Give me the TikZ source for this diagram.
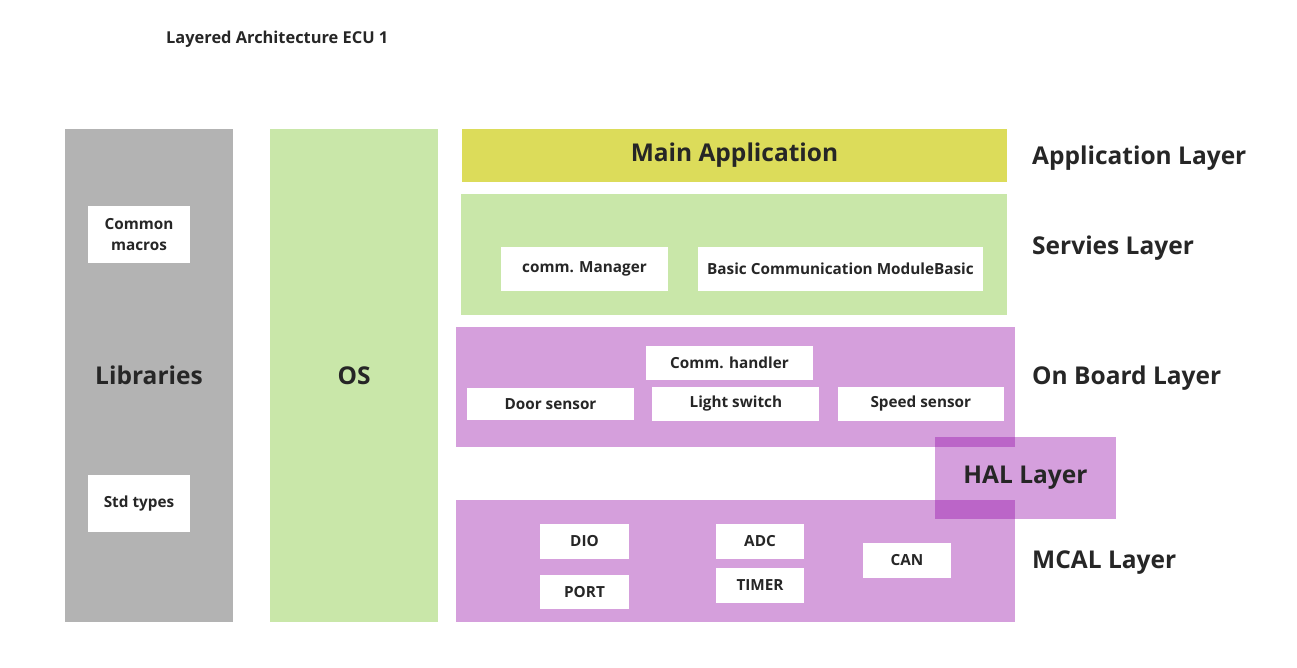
\documentclass[tikz,border=0pt]{standalone}
\usepackage{fontspec}
\setmainfont{Open Sans}
\usepackage{tikz}
\usetikzlibrary{positioning}
\definecolor{libgray}{HTML}{B3B3B3}
\definecolor{osgreen}{HTML}{C9E7A9}
\definecolor{appyellow}{HTML}{DCDC5A}
\definecolor{layerpurple}{HTML}{D59FDC}
\definecolor{halpurple}{RGB}{150,15,170}
\tikzset{layerbox/.style={rectangle,draw=none,inner sep=0pt,
font=\fontsize{24.5}{28}\selectfont\bfseries,text=black!85}}
\tikzset{modbox/.style={rectangle,draw=none,fill=white,inner sep=0pt,
font=\fontsize{15.3}{21}\selectfont\bfseries,text=black!85,align=center}}
\tikzset{layerlabel/.style={anchor=west,inner sep=0pt,
font=\fontsize{24.5}{28}\selectfont\bfseries,text=black!85}}

\begin{document}
\begin{tikzpicture}[x=1pt,y=-1pt]
    \useasboundingbox (0,0) rectangle (1297,668);

    \node[anchor=west,inner sep=0pt,font=\fontsize{16.4}{19}\selectfont\bfseries,text=black!85] (title) at (166,39) {Layered Architecture ECU 1};

    % vertical blocks
    \node[layerbox,fill=libgray,minimum width=168pt,minimum height=493pt] (libs) at (149,375.5) {Libraries};
    \node[layerbox,fill=osgreen,minimum width=168pt,minimum height=493pt] (os) at (354,375.5) {OS};
    \node[modbox,minimum width=102pt,minimum height=57pt] (macros) at (139,234.5) {Common\\macros};
    \node[modbox,minimum width=102pt,minimum height=57pt] (stdtypes) at (139,503.5) {Std types};

    % layers
    \node[layerbox,fill=appyellow,minimum width=545pt,minimum height=53pt] (mainapp) at (734.5,155.5) {Main Application};
    \node[layerbox,fill=osgreen,minimum width=546pt,minimum height=121pt] (servies) at (734,254.5) {};
    \node[layerbox,fill=layerpurple,minimum width=559pt,minimum height=120pt] (onboard) at (735.5,387) {};
    \node[layerbox,fill=layerpurple,minimum width=559pt,minimum height=122pt] (mcal) at (735.5,561) {};
    \node[layerbox,fill=halpurple,fill opacity=0.4,text opacity=1,minimum width=181pt,minimum height=82pt] (hal) at (1025.5,478) {HAL Layer};

    % services
    \node[modbox,minimum width=167pt,minimum height=44pt] (commmgr) at (584.5,269) {comm. Manager};
    \node[modbox,minimum width=285pt,minimum height=44pt] (basiccom) at (840.5,269) {Basic Communication ModuleBasic};

    % on board
    \node[modbox,minimum width=167pt,minimum height=34pt] (commhandler) at (729.5,363) {Comm. handler};
    \node[modbox,minimum width=167pt,minimum height=32pt] (door) at (550.5,404) {Door sensor};
    \node[modbox,minimum width=167pt,minimum height=34pt] (light) [right=18pt of door] {Light switch};
    \node[modbox,minimum width=166pt,minimum height=34pt] (speed) [right=18pt of light] {Speed sensor};

    % mcal
    \node[modbox,minimum width=89pt,minimum height=35pt] (dio) at (584.5,541.5) {DIO};
    \node[modbox,minimum width=89pt,minimum height=34pt] (port) at (584.5,592) {PORT};
    \node[modbox,minimum width=88pt,minimum height=35pt] (adc) at (760,541.5) {ADC};
    \node[modbox,minimum width=88pt,minimum height=35pt] (timer) at (760,585.5) {TIMER};
    \node[modbox,minimum width=88pt,minimum height=35pt] (can) at (907,560.5) {CAN};

    % layer names
    \node[layerlabel] (applabel) at (1032,158) {Application Layer};
    \node[layerlabel] (servlabel) at (1032,248) {Servies Layer};
    \node[layerlabel] (boardlabel) at (1032,378) {On Board Layer};
    \node[layerlabel] (mcallabel) at (1032,563) {MCAL Layer};

\end{tikzpicture}
\end{document}
